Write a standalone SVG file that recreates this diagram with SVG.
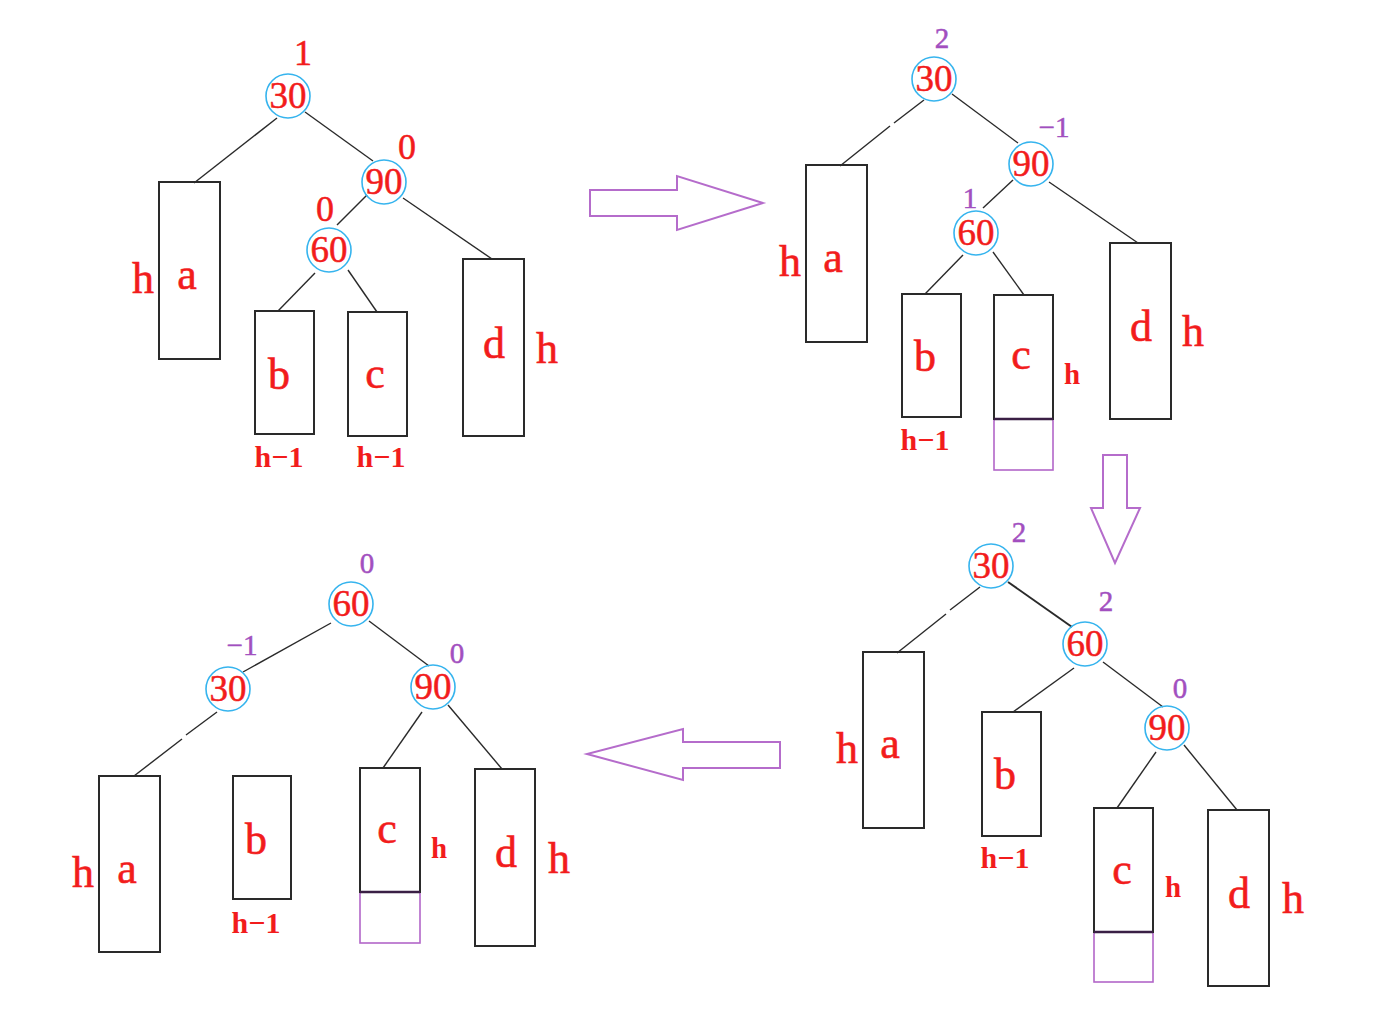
<svg xmlns="http://www.w3.org/2000/svg" width="1377" height="1036" viewBox="0 0 1377 1036">
<style>
.bg{fill:#ffffff}
.node circle{fill:none;stroke:#36b4ee;stroke-width:1.6}
.num{font-family:"Liberation Serif",serif;font-size:37px;fill:#f21c1c;stroke:#f21c1c;stroke-width:0.5;text-anchor:middle}
.bf{font-family:"Liberation Serif",serif;font-size:36px;fill:#f21c1c;stroke:#f21c1c;stroke-width:0.5;text-anchor:middle}
.bfp{font-family:"Liberation Serif",serif;font-size:29px;fill:#a24fbf;stroke:#a24fbf;stroke-width:0.5;text-anchor:middle}
.box rect.t{fill:none;stroke:#2a2a2a;stroke-width:2}
.big{font-family:"Liberation Serif",serif;font-size:44px;fill:#f21c1c;stroke:#f21c1c;stroke-width:0.6;text-anchor:middle}
.sm{font-family:"Liberation Serif",serif;font-size:29px;font-weight:bold;fill:#f21c1c;text-anchor:middle}
.hm{font-family:"Liberation Serif",serif;font-size:30px;font-weight:bold;fill:#f21c1c;text-anchor:middle}
.ext{fill:none;stroke:#b266c8;stroke-width:1.6}
.cbot{stroke:#3a1f45;stroke-width:2.6}
.edges line{stroke:#2a2a2a;stroke-width:1.4}
.arrow{fill:none;stroke:#b56ccb;stroke-width:2}
</style>
<rect class="bg" x="0" y="0" width="1377" height="1036"/>

<!-- ===== Panel 1 (top-left) ===== -->
<g id="p1-edges" class="edges">
<line x1="277" y1="118" x2="194" y2="183"/>
<line x1="305" y1="112" x2="373" y2="161"/>
<line x1="367" y1="195" x2="337" y2="225"/>
<line x1="403" y1="198" x2="492" y2="259"/>
<line x1="315" y1="273" x2="278" y2="311"/>
<line x1="348" y1="270" x2="377" y2="312"/>
</g>
<g id="p1-n30" class="node"><circle cx="288" cy="96" r="22"/><text class="num" x="288" y="108">30</text><text class="bf" x="303" y="65">1</text></g>
<g id="p1-n90" class="node"><circle cx="384" cy="182" r="22"/><text class="num" x="384" y="194">90</text><text class="bf" x="407" y="159">0</text></g>
<g id="p1-n60" class="node"><circle cx="329" cy="250" r="22"/><text class="num" x="329" y="262">60</text><text class="bf" x="325" y="221">0</text></g>
<g id="p1-a" class="box"><rect class="t" x="159" y="182" width="61" height="177"/><text class="big" x="187" y="289">a</text><text class="big" x="143" y="293">h</text></g>
<g id="p1-b" class="box"><rect class="t" x="255" y="311" width="59" height="123"/><text class="big" x="279" y="389">b</text><text class="hm" x="279" y="467">h−1</text></g>
<g id="p1-c" class="box"><rect class="t" x="348" y="312" width="59" height="124"/><text class="big" x="375" y="388">c</text><text class="hm" x="381" y="467">h−1</text></g>
<g id="p1-d" class="box"><rect class="t" x="463" y="259" width="61" height="177"/><text class="big" x="494" y="358">d</text><text class="big" x="547" y="363">h</text></g>

<!-- ===== Arrows ===== -->
<g id="arrow-right"><polygon class="arrow" points="590,190 677,190 677,176 763,203 677,230 677,216 590,216"/></g>
<g id="arrow-down"><polygon class="arrow" points="1103,455 1127,455 1127,508 1140,508 1115,563 1091,508 1103,508"/></g>
<g id="arrow-left"><polygon class="arrow" points="780,742 683,742 683,729 587,754 683,780 683,768 780,768"/></g>

<!-- ===== Panel 2 (top-right) ===== -->
<g id="p2-edges" class="edges">
<line x1="924" y1="100" x2="894" y2="123"/>
<line x1="890" y1="126" x2="840" y2="166"/>
<line x1="952" y1="94" x2="1018" y2="143"/>
<line x1="1013" y1="180" x2="983" y2="208"/>
<line x1="1049" y1="182" x2="1138" y2="243"/>
<line x1="963" y1="255" x2="925" y2="294"/>
<line x1="993" y1="252" x2="1024" y2="295"/>
</g>
<g id="p2-n30" class="node"><circle cx="934" cy="79" r="22"/><text class="num" x="934" y="91">30</text><text class="bfp" x="942" y="48">2</text></g>
<g id="p2-n90" class="node"><circle cx="1031" cy="164" r="22"/><text class="num" x="1031" y="176">90</text><text class="bfp" x="1054" y="137">−1</text></g>
<g id="p2-n60" class="node"><circle cx="976" cy="233" r="22"/><text class="num" x="976" y="245">60</text><text class="bfp" x="970" y="208">1</text></g>
<g id="p2-a" class="box"><rect class="t" x="806" y="165" width="61" height="177"/><text class="big" x="833" y="272">a</text><text class="big" x="790" y="276">h</text></g>
<g id="p2-b" class="box"><rect class="t" x="902" y="294" width="59" height="123"/><text class="big" x="925" y="371">b</text><text class="hm" x="925" y="450">h−1</text></g>
<g id="p2-c" class="box"><rect class="ext" x="994" y="419" width="59" height="51"/><rect class="t" x="994" y="295" width="59" height="124"/><line class="cbot" x1="994" y1="419" x2="1053" y2="419"/><text class="big" x="1021" y="369">c</text><text class="sm" x="1072" y="384">h</text></g>
<g id="p2-d" class="box"><rect class="t" x="1110" y="243" width="61" height="176"/><text class="big" x="1141" y="341">d</text><text class="big" x="1193" y="346">h</text></g>

<!-- ===== Panel 3 (bottom-right) ===== -->
<g id="p3-edges" class="edges">
<line x1="980" y1="587" x2="950" y2="610"/>
<line x1="946" y1="614" x2="897" y2="653"/>
<line x1="1008" y1="582" x2="1072" y2="627" style="stroke-width:2"/>
<line x1="1074" y1="668" x2="1013" y2="712"/>
<line x1="1103" y1="662" x2="1163" y2="707"/>
<line x1="1156" y1="752" x2="1117" y2="808"/>
<line x1="1184" y1="745" x2="1237" y2="810"/>
</g>
<g id="p3-n30" class="node"><circle cx="991" cy="566" r="22"/><text class="num" x="991" y="578">30</text><text class="bfp" x="1019" y="542">2</text></g>
<g id="p3-n60" class="node"><circle cx="1085" cy="644" r="22"/><text class="num" x="1085" y="656">60</text><text class="bfp" x="1106" y="611">2</text></g>
<g id="p3-n90" class="node"><circle cx="1167" cy="728" r="22"/><text class="num" x="1167" y="740">90</text><text class="bfp" x="1180" y="698">0</text></g>
<g id="p3-a" class="box"><rect class="t" x="863" y="652" width="61" height="176"/><text class="big" x="890" y="758">a</text><text class="big" x="847" y="763">h</text></g>
<g id="p3-b" class="box"><rect class="t" x="982" y="712" width="59" height="124"/><text class="big" x="1005" y="789">b</text><text class="hm" x="1005" y="868">h−1</text></g>
<g id="p3-c" class="box"><rect class="ext" x="1094" y="932" width="59" height="50"/><rect class="t" x="1094" y="808" width="59" height="124"/><line class="cbot" x1="1094" y1="932" x2="1153" y2="932"/><text class="big" x="1122" y="884">c</text><text class="sm" x="1173" y="897">h</text></g>
<g id="p3-d" class="box"><rect class="t" x="1208" y="810" width="61" height="176"/><text class="big" x="1239" y="908">d</text><text class="big" x="1293" y="913">h</text></g>

<!-- ===== Panel 4 (bottom-left) ===== -->
<g id="p4-edges" class="edges">
<line x1="331" y1="623" x2="243" y2="672"/>
<line x1="369" y1="621" x2="429" y2="666"/>
<line x1="217" y1="712" x2="186" y2="735"/>
<line x1="182" y1="739" x2="134" y2="776"/>
<line x1="422" y1="712" x2="383" y2="768"/>
<line x1="448" y1="705" x2="502" y2="769"/>
</g>
<g id="p4-n60" class="node"><circle cx="351" cy="604" r="22"/><text class="num" x="351" y="616">60</text><text class="bfp" x="367" y="573">0</text></g>
<g id="p4-n30" class="node"><circle cx="228" cy="689" r="22"/><text class="num" x="228" y="701">30</text><text class="bfp" x="242" y="655">−1</text></g>
<g id="p4-n90" class="node"><circle cx="433" cy="687" r="22"/><text class="num" x="433" y="699">90</text><text class="bfp" x="457" y="663">0</text></g>
<g id="p4-a" class="box"><rect class="t" x="99" y="776" width="61" height="176"/><text class="big" x="127" y="883">a</text><text class="big" x="83" y="887">h</text></g>
<g id="p4-b" class="box"><rect class="t" x="233" y="776" width="58" height="123"/><text class="big" x="256" y="854">b</text><text class="hm" x="256" y="933">h−1</text></g>
<g id="p4-c" class="box"><rect class="ext" x="360" y="892" width="60" height="51"/><rect class="t" x="360" y="768" width="60" height="124"/><line class="cbot" x1="360" y1="892" x2="420" y2="892"/><text class="big" x="387" y="843">c</text><text class="sm" x="439" y="858">h</text></g>
<g id="p4-d" class="box"><rect class="t" x="475" y="769" width="60" height="177"/><text class="big" x="506" y="867">d</text><text class="big" x="559" y="873">h</text></g>
</svg>
